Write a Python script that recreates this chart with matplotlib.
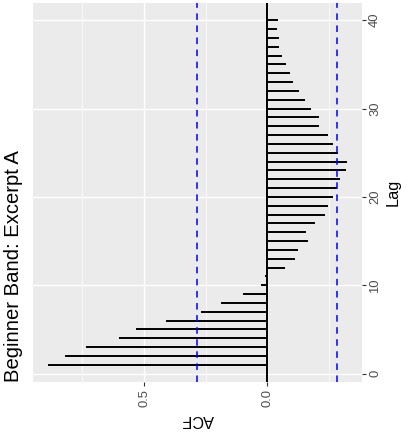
import matplotlib
matplotlib.use("Agg")
import matplotlib.pyplot as plt
from matplotlib.ticker import FixedLocator

# Autocorrelation by lag
lags = list(range(1, 41))
acf_values = [0.890, 0.822, 0.734, 0.601, 0.533, 0.411, 0.268, 0.186, 0.098, 0.027,
              0.010, -0.071, -0.112, -0.126, -0.166, -0.159, -0.193, -0.235, -0.246, -0.269,
              -0.283, -0.296, -0.321, -0.323, -0.288, -0.269, -0.245, -0.212, -0.209, -0.177,
              -0.152, -0.130, -0.103, -0.092, -0.076, -0.062, -0.049, -0.049, -0.039, -0.043]
conf_limit = 0.285

acf_ticks = [0.0, 0.5]
acf_tick_labels = ["0.0", "0.5"]
acf_minor_ticks = [-0.25, 0.25, 0.75]
lag_ticks = [0, 10, 20, 30, 40]
lag_tick_labels = ["0", "10", "20", "30", "40"]
title = "Beginner Band: Excerpt A"

plt.rcParams['font.family'] = ['Liberation Sans', 'DejaVu Sans']

W, H = 409, 445
fig = plt.figure(figsize=(W / 100, H / 100), dpi=100)
left, right, top, bottom = 33, 361.7, 3, 382
ax = fig.add_axes([left / W, 1 - bottom / H, (right - left) / W, (bottom - top) / H])
ax.set_facecolor('#EBEBEB')
for s in ax.spines.values():
    s.set_visible(False)

# Rotated layout: ACF runs right-to-left, lag runs bottom-to-top
lo = min(min(acf_values), -conf_limit, 0.0)
hi = max(max(acf_values), conf_limit, 0.0)
pad = 0.05 * (hi - lo)
ax.set_xlim(hi + pad, lo - pad)
ylo, yhi = min(lags), max(lags)
ypad = 0.05 * (yhi - ylo)
ax.set_ylim(ylo - ypad, yhi + ypad)

ax.xaxis.set_major_locator(FixedLocator(acf_ticks))
ax.xaxis.set_minor_locator(FixedLocator(acf_minor_ticks))
ax.yaxis.set_major_locator(FixedLocator(lag_ticks))
ax.set_axisbelow(True)
ax.grid(which='major', color='white', lw=1.0)
ax.grid(which='minor', axis='x', color='white', lw=0.5)

ax.axvline(0, color='black', lw=1.4, zorder=2)
ax.hlines(lags, 0, acf_values, color='black', lw=1.4, zorder=3)
for c in (conf_limit, -conf_limit):
    ax.axvline(c, color='#0000FF', lw=1.1, linestyle=(0, (4.3, 3.6)), zorder=4)

ax.yaxis.tick_right()
ax.yaxis.set_label_position('right')
ax.tick_params(which='major', length=2.9, width=0.8, color='#333333',
               labelsize=9.4, labelcolor='#4D4D4D', pad=2.4)
ax.tick_params(which='minor', length=0)
ax.set_xticklabels(acf_tick_labels, rotation=90)
ax.set_yticklabels(lag_tick_labels, rotation=90, va='center')

ax.set_xlabel('ACF', rotation=180, fontsize=11.7, labelpad=3)
ax.set_ylabel('Lag', rotation=90, fontsize=11.7, labelpad=3)

fig.text(13.5 / W, 1 - bottom / H, title, rotation=90, ha='center', va='bottom',
         fontsize=14.6)

fig.savefig('out.png', dpi=100)
